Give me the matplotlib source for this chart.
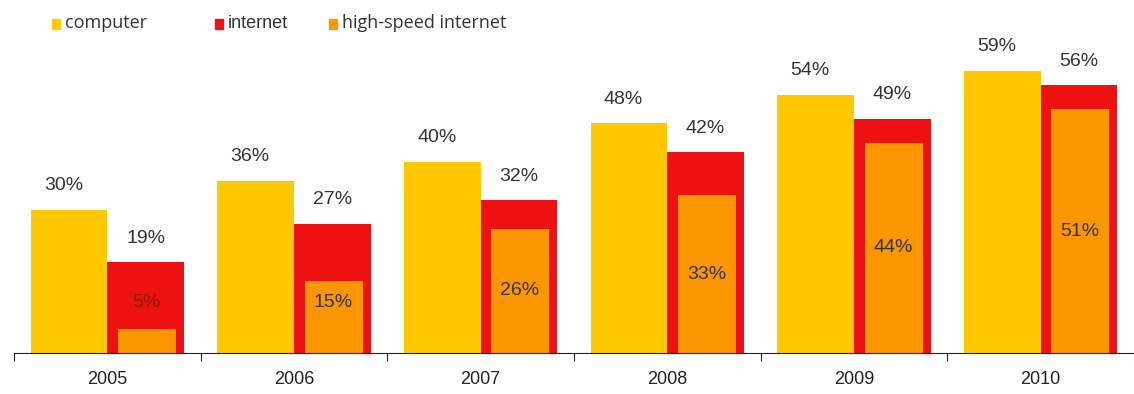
import matplotlib.pyplot as plt
from matplotlib.patches import Rectangle

years = ["2005", "2006", "2007", "2008", "2009", "2010"]
computer = [30, 36, 40, 48, 54, 59]
internet = [19, 27, 32, 42, 49, 56]
highspeed = [5, 15, 26, 33, 44, 51]

c_yellow = "#FFC800"
c_red = "#EE1111"
c_orange = "#FA9600"
c_text = "#333333"

plt.rcParams["font.family"] = ["Liberation Sans", "DejaVu Sans"]

fig = plt.figure(figsize=(11.34, 3.94), dpi=100)
ax = fig.add_axes([14 / 1134, 41 / 394, 1 - 14 / 1134, 353 / 394])

x = list(range(len(years)))
w = 0.41
ax.bar([i - w / 2 for i in x], computer, width=w, color=c_yellow, linewidth=0)
ax.bar([i + w / 2 for i in x], internet, width=w, color=c_red, linewidth=0)
ax.bar([i + 0.212 for i in x], highspeed, width=0.31, color=c_orange, linewidth=0)

fs = 14
for i in x:
    ax.text(i - w / 2 - 0.03, computer[i] + 5.0, f"{computer[i]}%", ha="center",
            va="center", fontsize=fs, color=c_text)
    ax.text(i + w / 2, internet[i] + 5.0, f"{internet[i]}%", ha="center",
            va="center", fontsize=fs, color=c_text)
    yh = max(highspeed[i] / 2, 10.5)
    col = "#8a1a00" if highspeed[i] < 10 else c_text
    ax.text(i + 0.21, yh, f"{highspeed[i]}%", ha="center", va="center",
            fontsize=fs, color=col)

ax.set_xlim(-0.5, len(years) - 0.5)
ax.set_ylim(0, 73.8)
for s in ["top", "right", "left"]:
    ax.spines[s].set_visible(False)
ax.spines["bottom"].set_color("#222222")
ax.set_yticks([])
ax.set_xticks([i - 0.5 for i in range(len(years) + 1)], minor=False)
ax.set_xticklabels([])
ax.tick_params(axis="x", length=6, direction="out", color="#222222")
for i, y in enumerate(years):
    ax.text(i, -5.6, y, ha="center", va="center", fontsize=13, color="#222222")

# legend
legend_items = [("computer", c_yellow, 52), ("internet", c_red, 215),
                ("high-speed internet", c_orange, 329)]
for label, col, px in legend_items:
    fig.patches.append(Rectangle((px / 1134, 1 - 29 / 394), 8 / 1134, 10 / 394,
                                 transform=fig.transFigure, color=col))
    fig.text((px + 13) / 1134, 1 - 23 / 394, label, ha="left", va="center",
             fontsize=13, color="#333333",
             family=["Open Sans", "DejaVu Sans"] if label != "internet" else ["Liberation Sans", "DejaVu Sans"])

fig.savefig("out.png", dpi=100)
